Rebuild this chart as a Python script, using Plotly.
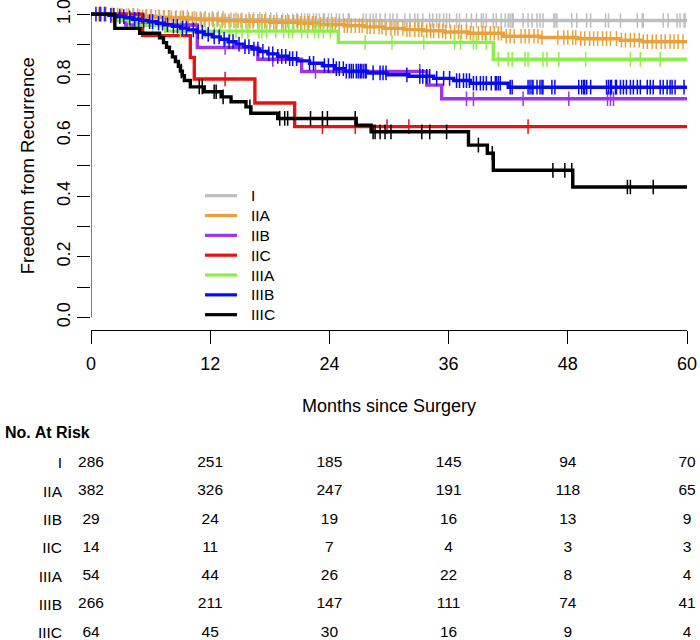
import numpy as np
import plotly.graph_objects as go

# ---- data ----
stages = ["I", "IIA", "IIB", "IIC", "IIIA", "IIIB", "IIIC"]
colors = ["#BEBEBE", "#E9A23B", "#9A35E8", "#E01515", "#8CEE4A", "#0A0AF0", "#000000"]

# Kaplan-Meier step times (months) and survival after each step
step_t = {
    "I": [0, 2.5, 4.8, 7.0, 10.0, 14.0, 19.0],
    "IIA": [0, 2.0, 3.5, 5.0, 6.5, 8.0, 9.5, 11.0, 13.0, 15.5, 18.0, 21.0, 23.0, 25.5,
            27.5, 29.5, 31.5, 33.5, 35.5, 38.0, 41.5, 45.2, 49.0, 53.3, 55.5],
    "IIB": [0, 3.5, 10.7, 16.8, 21.2, 33.8, 35.3],
    "IIC": [0, 5.2, 10.0, 10.4, 16.5, 20.5],
    "IIIA": [0, 2.5, 4.5, 7.5, 24.9, 40.5],
    "IIIB": [0, 1.8, 2.6, 3.4, 4.2, 5.0, 5.8, 6.6, 7.4, 8.2, 9.0, 9.8, 10.6, 11.4, 12.2,
             13.0, 13.8, 14.6, 15.4, 16.2, 17.0, 17.8, 18.8, 19.8, 20.8, 22.0, 23.3, 24.6,
             25.6, 27.8, 29.8, 32.0, 34.5, 36.5, 38.2, 42.0],
    "IIIC": [0, 2.4, 4.9, 6.9, 7.3, 7.6, 7.9, 8.2, 8.5, 8.8, 9.0, 9.2, 9.4, 10.0, 11.4,
             13.1, 14.1, 15.6, 16.1, 18.8, 26.7, 28.2, 38.0, 39.9, 40.5, 48.5],
}
step_s = {
    "I": [1.0, 0.996, 0.993, 0.989, 0.986, 0.982, 0.979],
    "IIA": [1.0, 0.997, 0.995, 0.992, 0.989, 0.987, 0.984, 0.981, 0.978, 0.976, 0.973, 0.970,
            0.966, 0.962, 0.958, 0.953, 0.949, 0.945, 0.941, 0.937, 0.927, 0.923, 0.919,
            0.914, 0.909],
    "IIB": [1.0, 0.964, 0.890, 0.851, 0.811, 0.766, 0.721],
    "IIC": [1.0, 0.929, 0.857, 0.786, 0.707, 0.629],
    "IIIA": [1.0, 0.981, 0.963, 0.944, 0.907, 0.851],
    "IIIB": [1.0, 0.996, 0.992, 0.988, 0.983, 0.979, 0.975, 0.970, 0.965, 0.960, 0.954, 0.948,
             0.941, 0.933, 0.925, 0.917, 0.909, 0.901, 0.893, 0.885, 0.877, 0.869, 0.861,
             0.853, 0.846, 0.838, 0.830, 0.820, 0.812, 0.806, 0.800, 0.795, 0.788, 0.781,
             0.772, 0.759],
    "IIIC": [1.0, 0.953, 0.937, 0.922, 0.906, 0.891, 0.875, 0.859, 0.844, 0.828, 0.812, 0.797,
             0.781, 0.760, 0.744, 0.727, 0.711, 0.694, 0.673, 0.656, 0.634, 0.612, 0.568,
             0.541, 0.485, 0.430],
}

# censoring times (months)
censor_t = {
    "I": [1.3, 2.1, 2.9, 3.6, 4.2, 4.9, 5.5, 6.1, 6.8, 7.4, 7.9, 8.6, 9.2, 9.7, 10.4, 11.0,
          11.5, 12.2, 12.8, 13.3, 14.1, 14.6, 15.2, 15.9, 16.4, 17.0, 17.6, 18.1, 18.7, 19.3,
          19.8, 20.3, 20.7, 20.8, 21.2, 21.5, 21.8, 22.0, 22.4, 22.7, 23.0, 23.4, 23.5, 23.9,
          24.2, 24.7, 25.0, 25.4, 25.9, 26.0, 27.4, 27.7, 28.1, 28.4, 28.7, 29.1, 29.6, 30.1,
          30.4, 30.8, 31.6, 32.1, 32.6, 32.9, 33.4, 34.1, 34.4, 34.8, 35.1, 35.5, 35.8, 36.1,
          36.8, 37.1, 37.8, 38.3, 38.8, 39.3, 39.5, 39.8, 40.5, 40.8, 41.3, 41.7, 42.0, 42.2,
          42.4, 42.5, 43.5, 44.0, 44.4, 44.9, 45.2, 45.5, 46.6, 46.7, 46.9, 48.4, 48.9, 49.9,
          50.3, 51.8, 52.1, 53.3, 55.0, 55.5, 55.6, 57.6, 58.1, 59.0, 59.3, 59.7, 59.8],
    "IIA": [0.8, 1.5, 2.2, 2.7, 3.1, 3.8, 4.3, 4.7, 5.2, 5.6, 6.0, 6.5, 6.9, 7.3, 7.8, 8.1,
            8.5, 9.0, 9.3, 9.8, 10.2, 10.6, 11.1, 11.4, 11.9, 12.3, 12.7, 13.2, 13.5, 13.9,
            14.4, 14.8, 15.1, 15.6, 16.0, 16.3, 16.8, 17.2, 17.5, 18.0, 18.4, 18.7, 19.2, 19.6,
            19.9, 20.4, 20.8, 21.1, 21.5, 21.9, 22.3, 22.6, 23.1, 23.4, 23.8, 24.3, 24.6, 25.0,
            25.5, 25.8, 26.2, 26.6, 27.0, 27.3, 27.8, 28.1, 28.5, 29.0, 29.3, 29.7, 30.2, 30.6,
            30.9, 31.4, 31.8, 32.1, 32.6, 33.0, 33.3, 33.8, 34.2, 34.5, 35.0, 35.4, 35.7, 36.2,
            36.6, 37.0, 37.3, 37.8, 38.2, 38.5, 39.0, 39.4, 39.7, 40.2, 40.6, 41.0, 41.3, 41.8,
            42.2, 42.6, 43.3, 43.7, 44.1, 44.6, 45.0, 45.4, 47.0, 47.6, 48.0, 48.5, 48.8, 49.3,
            49.7, 50.2, 50.6, 51.0, 51.5, 51.9, 52.3, 52.9, 53.4, 53.8, 54.3, 54.7, 55.2, 55.6,
            56.0, 56.5, 56.9, 57.4, 57.8, 58.3, 58.7, 59.1, 59.6],
    "IIB": [1.0, 7.5, 13.5, 18.3, 22.6, 33.1, 37.8, 38.5, 43.5, 48.1, 52.0, 52.3, 52.6],
    "IIC": [13.5, 23.3, 26.6, 29.8, 32.0, 44.0],
    "IIIA": [3.8, 6.2, 9.0, 11.5, 12.4, 13.0, 14.0, 14.6, 15.2, 15.8, 16.9, 17.2, 17.7, 18.6,
             19.4, 19.9, 20.3, 21.2, 21.8, 22.5, 22.9, 23.4, 24.1, 27.6, 30.3, 33.5, 36.6, 37.2,
             38.5, 38.8, 39.8, 41.0, 42.0, 42.4, 43.7, 44.0, 45.5, 45.9, 47.1, 49.8, 54.3, 55.3,
             57.3],
    "IIIB": [0.5, 0.9, 1.4, 2.0, 2.3, 2.9, 3.3, 3.9, 4.4, 4.8, 5.3, 5.9, 6.2, 6.8, 7.2, 7.7,
             8.3, 8.7, 9.2, 9.6, 10.3, 10.8, 11.2, 11.8, 12.4, 12.9, 13.4, 13.9, 14.3, 14.9,
             15.5, 15.9, 16.4, 16.8, 17.3, 17.9, 18.3, 18.8, 19.2, 19.6, 20.0, 20.3, 20.7, 22.0,
             22.4, 23.5, 23.9, 24.4, 24.7, 25.0, 25.4, 25.7, 26.0, 26.2, 26.4, 26.7, 26.9, 27.1,
             27.2, 27.4, 27.6, 27.7, 28.4, 29.1, 29.4, 29.7, 31.8, 33.1, 33.4, 33.8, 34.1, 34.8,
             35.5, 36.1, 36.8, 37.1, 37.5, 37.8, 38.1, 38.5, 38.8, 39.2, 39.5, 39.8, 40.3, 40.7,
             40.8, 41.0, 41.2, 42.2, 42.4, 44.0, 44.2, 44.4, 44.5, 44.9, 45.2, 45.4, 45.5, 46.4,
             46.7, 49.1, 49.4, 49.6, 49.7, 49.9, 50.3, 51.9, 52.1, 52.3, 52.4, 52.8, 52.9, 53.3,
             53.6, 53.9, 54.3, 54.6, 55.0, 55.3, 56.0, 56.3, 56.6, 57.3, 57.6, 58.0, 58.3, 58.5,
             58.8, 59.7],
    "IIIC": [9.1, 10.9, 11.2, 12.4, 12.6, 13.3, 16.0, 19.0, 19.5, 19.8, 22.1, 23.3, 23.8, 26.6,
             28.4, 28.6, 29.1, 29.6, 30.2, 33.3, 34.1, 35.8, 39.0, 40.4, 46.5, 47.7, 48.4, 54.0,
             54.3, 56.6],
}

# number at risk table
risk_months = [0, 12, 24, 36, 48, 60]
at_risk = {
    "I": [286, 251, 185, 145, 94, 70],
    "IIA": [382, 326, 247, 191, 118, 65],
    "IIB": [29, 24, 19, 16, 13, 9],
    "IIC": [14, 11, 7, 4, 3, 3],
    "IIIA": [54, 44, 26, 22, 8, 4],
    "IIIB": [266, 211, 147, 111, 74, 41],
    "IIIC": [64, 45, 30, 16, 9, 4],
}

FONT = "Liberation Sans, Arial, sans-serif"
W, H = 700, 640
ML, MR, MT, MB = 91, 13, 2, 0
PW, PH = W - ML - MR, H - MT - MB


def px(x):  # pixel -> paper x
    return (x - ML) / PW


def py(y):  # pixel -> paper y
    return (H - MB - y) / PH


fig = go.Figure()

for stage, color in zip(stages, colors):
    t = step_t[stage] + [60]
    s = step_s[stage] + [step_s[stage][-1]]
    fig.add_trace(
        go.Scatter(
            x=t,
            y=s,
            mode="lines",
            line=dict(color=color, width=3.4, shape="hv"),
            name=stage,
            showlegend=False,
            hoverinfo="skip",
        )
    )
    # censor ticks sit on the curve
    ct = np.array(censor_t[stage])
    idx = np.searchsorted(np.array(step_t[stage]), ct, side="right") - 1
    cs = np.array(step_s[stage])[idx]
    fig.add_trace(
        go.Scatter(
            x=ct,
            y=cs,
            mode="markers",
            marker=dict(symbol="line-ns", size=10.5, line=dict(color=color, width=1.5)),
            showlegend=False,
            hoverinfo="skip",
        )
    )

# --- at-risk table as a second panel sharing the month scale ---
for i, stage in enumerate(stages):
    fig.add_trace(
        go.Scatter(
            x=risk_months,
            y=[i] * len(risk_months),
            mode="text",
            text=[str(v) for v in at_risk[stage]],
            textfont=dict(size=15.5, color="black", family=FONT),
            textposition="middle center",
            xaxis="x2",
            yaxis="y2",
            showlegend=False,
            cliponaxis=False,
            hoverinfo="skip",
        )
    )

# y axis line only spans 0..1 like base R
fig.add_shape(
    type="line", xref="x", yref="y", x0=0, x1=0, y0=0, y1=1,
    line=dict(color="black", width=1),
)

# legend drawn R-style (tight rows, short line keys)
for i, (stage, color) in enumerate(zip(stages, colors)):
    yy = py(195.7 + i * 19.83)
    fig.add_shape(
        type="line", xref="paper", yref="paper",
        x0=px(205), x1=px(237), y0=yy, y1=yy,
        line=dict(color=color, width=3.2),
    )
    fig.add_annotation(
        text=stage, xref="paper", yref="paper", x=px(249), y=yy,
        xanchor="left", yanchor="middle", showarrow=False,
        font=dict(size=15.5, color="black", family=FONT),
    )

fig.add_annotation(
    text="<b>No. At Risk</b>",
    xref="paper", yref="paper", x=px(3), y=py(432),
    xanchor="left", yanchor="middle", showarrow=False,
    font=dict(size=16, color="black", family=FONT),
)

fig.update_layout(
    width=W,
    height=H,
    margin=dict(l=ML, r=MR, t=MT, b=MB),
    plot_bgcolor="white",
    paper_bgcolor="white",
    font=dict(family=FONT, color="black"),
    showlegend=False,
    xaxis=dict(
        domain=[0, 1], range=[0, 60], tickvals=risk_months, automargin=False,
        ticks="outside", ticklen=13, tickwidth=1, tickcolor="black",
        showline=True, linecolor="black", linewidth=1, ticklabelstandoff=5,
        ticklabeloverflow="allow",
        showgrid=False, zeroline=False, tickfont=dict(size=18),
        title=dict(text="Months since Surgery", font=dict(size=18), standoff=26),
    ),
    yaxis=dict(
        domain=[py(329.5), 1], range=[-0.04, 1.04], automargin=False,
        tickvals=[0, 0.2, 0.4, 0.6, 0.8, 1.0],
        ticktext=["0.0", "0.2", "0.4", "0.6", "0.8", "1.0"],
        tickangle=-90, ticks="outside", ticklen=13, tickwidth=1, tickcolor="black",
        ticklabeloverflow="allow",
        minor=dict(tickvals=[0.1, 0.3, 0.5, 0.7, 0.9], ticks="outside", ticklen=13,
                   tickwidth=1, tickcolor="black", showgrid=False),
        showline=False, showgrid=False, zeroline=False, tickfont=dict(size=18),
        title=dict(text="Freedom from Recurrence", font=dict(size=18.5), standoff=14),
    ),
    xaxis2=dict(domain=[0, 1], range=[0, 60], anchor="y2", visible=False),
    yaxis2=dict(
        domain=[0, py(450)], range=[6.25, -0.46], anchor="x2", automargin=False,
        tickvals=list(range(len(stages))), ticktext=stages, ticks="",
        showline=False, showgrid=False, zeroline=False, ticklabeloverflow="allow",
        tickfont=dict(size=15.5), ticklabelstandoff=28,
    ),
)

# page body has an 8px default margin; drop it so the figure sits at the window corner
fig.write_html(
    "out.html",
    config={"displayModeBar": False},
    post_script="document.body.style.margin='0';",
)
